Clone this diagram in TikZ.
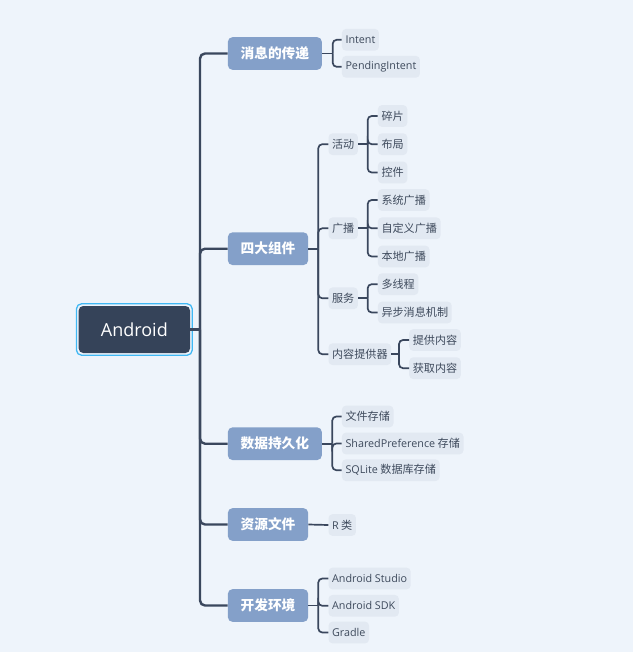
\documentclass[tikz,border=0pt]{standalone}
\usepackage{fontspec}
\setmainfont{Noto Sans CJK SC}
\newfontfamily\latr{Open Sans}
\newfontfamily\lat{Open Sans}[Scale=0.97]
\definecolor{bgc}{HTML}{EEF4FB}
\definecolor{leafc}{HTML}{E2E9F2}
\definecolor{lonec}{HTML}{84A0C9}
\definecolor{rootc}{HTML}{354359}
\definecolor{cyanc}{HTML}{40B8F4}
\definecolor{linec}{HTML}{3A475D}
\definecolor{leaftext}{HTML}{3E4A5C}
\tikzset{
  leaf/.style={fill=leafc, rounded corners=4pt, anchor=west, minimum height=21.7pt,
    inner xsep=3.6pt, inner ysep=0pt, text=leaftext, font=\fontsize{11.1}{13}\selectfont},
  lvone/.style={fill=lonec, rounded corners=4.5pt, anchor=west, minimum height=32.6pt,
    inner xsep=12.7pt, inner ysep=0pt, text=white, font=\fontsize{13.7}{16}\selectfont\bfseries},
  rootbox/.style={fill=rootc, rounded corners=4.5pt, minimum width=111.3pt, minimum height=47pt,
    text=white, font=\fontsize{18}{20}\selectfont\latr},
  rootborder/.style={draw=cyanc, line width=1.3pt, rounded corners=5pt},
  conA/.style={draw=linec, line width=2.4pt, rounded corners=5pt},
  conB/.style={draw=linec, line width=1.7pt, rounded corners=4pt}
}
\begin{document}
\begin{tikzpicture}[x=1pt,y=-1pt]
\fill[bgc] (0,0) rectangle (633,652);
\useasboundingbox (0,0) rectangle (633,652);

% root
\node[rootbox] (root) at (134.35,329.5) {Android};
\draw[rootborder] ([shift={(-2,-2)}]root.north west) rectangle ([shift={(2,2)}]root.south east);

% level one
\node[lvone] (m) at (227.7,53.5) {消息的传递};
\node[lvone] (s) at (227.7,248.7) {四大组件};
\node[lvone] (d) at (227.7,443.7) {数据持久化};
\node[lvone] (r) at (227.7,524.5) {资源文件};
\node[lvone] (k) at (227.7,605.5) {开发环境};

% leaves of m
\node[leaf] (m1) at (341.7,39.8) {\lat Intent};
\node[leaf] (m2) at (341.7,66.8) {\lat PendingIntent};

% second level of s
\node[leaf] (s1) at (328.3,144.2) {活动};
\node[leaf] (s2) at (328.3,228.3) {广播};
\node[leaf] (s3) at (328.3,298.3) {服务};
\node[leaf] (s4) at (328.3,354.2) {内容提供器};

\node[leaf] (s11) at (377.7,116) {碎片};
\node[leaf] (s12) at (377.7,144.2) {布局};
\node[leaf] (s13) at (377.7,172.5) {控件};
\node[leaf] (s21) at (377.7,200) {系统广播};
\node[leaf] (s22) at (377.7,228.3) {自定义广播};
\node[leaf] (s23) at (377.7,256.5) {本地广播};
\node[leaf] (s31) at (377.7,284.2) {多线程};
\node[leaf] (s32) at (377.7,312.5) {异步消息机制};
\node[leaf] (s41) at (409,340) {提供内容};
\node[leaf] (s42) at (409,368.2) {获取内容};

% leaves of d
\node[leaf] (d1) at (341.7,416.5) {文件存储};
\node[leaf] (d2) at (341.7,443.5) {{\lat SharedPreference} 存储};
\node[leaf] (d3) at (341.7,470.2) {{\lat SQLite} 数据库存储};

% leaf of r
\node[leaf] (r1) at (328.3,525) {{\lat R} 类};

% leaves of k
\node[leaf] (k1) at (328.3,578.5) {\lat Android Studio};
\node[leaf] (k2) at (328.3,605.8) {\lat Android SDK};
\node[leaf] (k3) at (328.3,632.5) {\lat Gradle};

% trunk
\coordinate (tr) at (200,329.5);
\draw[conA] (root.east) -- (tr);
\foreach \c in {m,s,d,r,k} \draw[conA] (tr) |- (\c.west);

% branches
\coordinate (mb) at (332.7,53.5);
\draw[conB] (m.east) -- (mb);
\foreach \c in {m1,m2} \draw[conB] (mb) |- (\c.west);

\coordinate (sb) at (318.3,248.7);
\draw[conB] (s.east) -- (sb);
\foreach \c in {s1,s2,s3,s4} \draw[conB] (sb) |- (\c.west);

\coordinate (s1b) at (367.7,144.2);
\draw[conB] (s1.east) -- (s1b);
\foreach \c in {s11,s12,s13} \draw[conB] (s1b) |- (\c.west);

\coordinate (s2b) at (367.7,228.3);
\draw[conB] (s2.east) -- (s2b);
\foreach \c in {s21,s22,s23} \draw[conB] (s2b) |- (\c.west);

\coordinate (s3b) at (367.7,298.3);
\draw[conB] (s3.east) -- (s3b);
\foreach \c in {s31,s32} \draw[conB] (s3b) |- (\c.west);

\coordinate (s4b) at (399,354.2);
\draw[conB] (s4.east) -- (s4b);
\foreach \c in {s41,s42} \draw[conB] (s4b) |- (\c.west);

\coordinate (db) at (332.3,443.7);
\draw[conB] (d.east) -- (db);
\foreach \c in {d1,d2,d3} \draw[conB] (db) |- (\c.west);

\draw[conB] (r.east) -- (r1.west);

\coordinate (kb) at (318.3,605.5);
\draw[conB] (k.east) -- (kb);
\foreach \c in {k1,k2,k3} \draw[conB] (kb) |- (\c.west);
\end{tikzpicture}
\end{document}
